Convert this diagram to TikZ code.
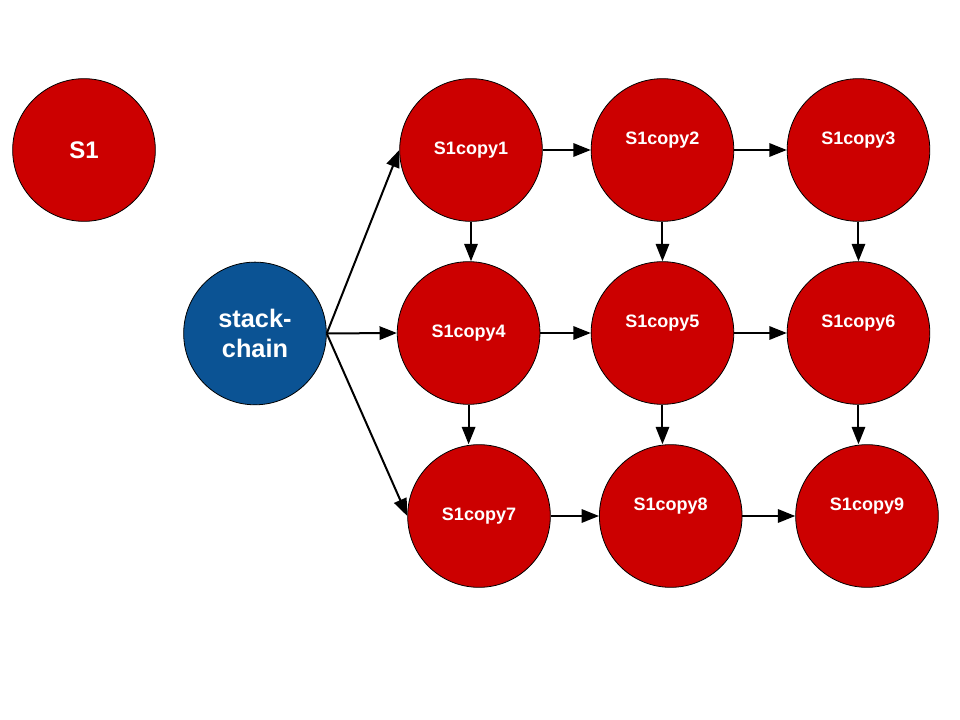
\documentclass[tikz,border=0pt]{standalone}
\usepackage{fontspec}
\setmainfont{Liberation Sans}
\usetikzlibrary{positioning,arrows.meta}
\definecolor{statered}{HTML}{CC0000}
\definecolor{chainblue}{HTML}{0B5394}

\begin{document}
\begin{tikzpicture}
[
  state/.style={circle,draw=black,line width=0.6pt,fill=statered,text=white,
    minimum size=107pt,inner sep=0pt,font=\bfseries\fontsize{13.5}{16}\selectfont,
    text height=10pt,text depth=3pt},
  raised/.style={text depth=18pt},
  chain/.style={state,fill=chainblue,align=center,font=\bfseries\fontsize{19}{22}\selectfont,
    text height=,text depth=},
  node distance=144pt,
  on grid,
  >={Triangle[length=13pt,width=10pt]},
  line width=1.5pt
]
 \useasboundingbox (0,0) rectangle (720pt,-540pt);

 \node[state,font=\bfseries\fontsize{18}{21}\selectfont,text height=,text depth=] (s1) at (63pt,-112.5pt) {S1};
 \node[chain] (sc) at (191.25pt,-250.1pt) {stack-\\chain};

 \node[state] (c1) at (353.25pt,-112.5pt) {S1copy1};
 \node[state,raised] (c2) [right=143.6pt of c1] {S1copy2};
 \node[state,raised] (c3) [right=147pt of c2] {S1copy3};
 \node[state] (c4) [below=137.25pt of c1,xshift=-1.8pt] {S1copy4};
 \node[state,raised] (c5) [right=145.4pt of c4] {S1copy5};
 \node[state,raised] (c6) [right=147pt of c5] {S1copy6};
 \node[state] (c7) [below=137.25pt of c4,xshift=7.8pt] {S1copy7};
 \node[state,raised] (c8) [right=143.8pt of c7] {S1copy8};
 \node[state,raised] (c9) [right=147.2pt of c8] {S1copy9};

  \path[->]
    (sc.east) edge (c1.west)
    (sc.east) edge (c4.west)
    (sc.east) edge (c7.west)
    (c1) edge (c2)
    (c2) edge (c3)
    (c4) edge (c5)
    (c5) edge (c6)
    (c7) edge (c8)
    (c8) edge (c9)
    (c1.south) edge (c1.south |- c4.north)
    (c2.south) edge (c2.south |- c5.north)
    (c3.south) edge (c3.south |- c6.north)
    (c4.south) edge (c4.south |- c7.north)
    (c5.south) edge (c5.south |- c8.north)
    (c6.south) edge (c6.south |- c9.north);
\end{tikzpicture}
\end{document}
